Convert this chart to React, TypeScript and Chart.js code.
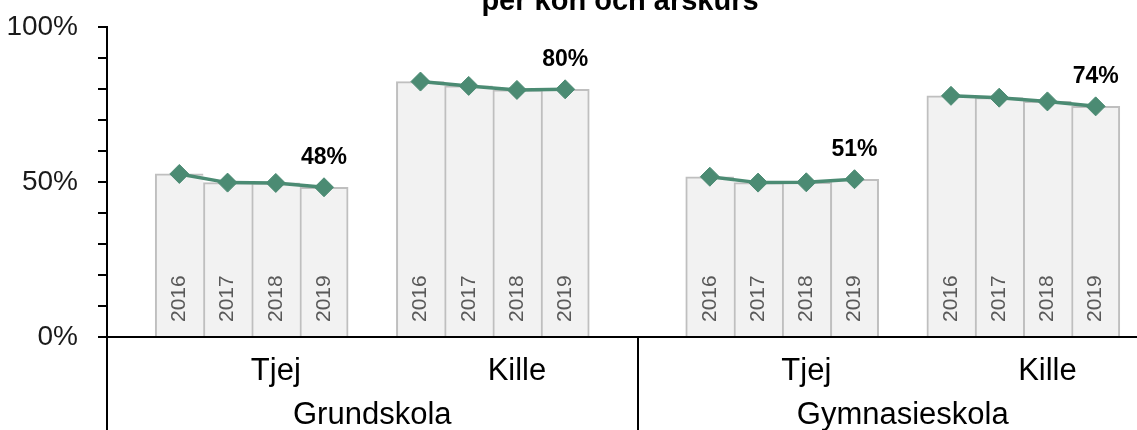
import React, { useEffect, useRef } from 'react';
import { Chart, registerables } from 'chart.js';

Chart.register(...registerables);

// ---------- data ----------
const years = ['2016', '2017', '2018', '2019'];
const genders = ['Tjej', 'Kille'];
const schoolGroups = ['Grundskola', 'Gymnasieskola'];
const grundskolaTjej = [52.6, 49.8, 49.7, 48.3];
const grundskolaKille = [82.4, 81.0, 79.7, 79.9];
const gymnasieskolaTjej = [51.7, 49.8, 49.9, 50.9];
const gymnasieskolaKille = [77.8, 77.2, 76.0, 74.4];
const yTickValues = [0, 50, 100];
const titleText = 'per kön och årskurs';

// ---------- derived category slots (blank slot before each group, after each gender) ----------
const seriesByGroup = [
  [grundskolaTjej, grundskolaKille],
  [gymnasieskolaTjej, gymnasieskolaKille],
];
const slotLabels: string[] = [];
const slotValues: (number | null)[] = [];
const slotIsLast: boolean[] = [];
const genderCenters: number[] = [];
const genderNames: string[] = [];
const groupCenters: number[] = [];
const groupEdges: number[] = [0];
seriesByGroup.forEach((pair) => {
  const groupStart = slotLabels.length;
  slotLabels.push('');
  slotValues.push(null);
  slotIsLast.push(false);
  pair.forEach((vals, k) => {
    const start = slotLabels.length;
    vals.forEach((v, i) => {
      slotLabels.push(years[i]);
      slotValues.push(v);
      slotIsLast.push(i === vals.length - 1);
    });
    slotLabels.push('');
    slotValues.push(null);
    slotIsLast.push(false);
    genderCenters.push((start + slotLabels.length) / 2);
    genderNames.push(genders[k]);
  });
  groupCenters.push((groupStart + slotLabels.length) / 2);
  groupEdges.push(slotLabels.length);
});
const slotCount = slotLabels.length;

const FONT = "'Liberation Sans', Arial, sans-serif";
const GREEN = '#4b8b73';

const overlayPlugin = {
  id: 'overlay',
  afterDatasetsDraw(chart: any) {
    const ctx = chart.ctx;
    const area = chart.chartArea;
    const barMeta = chart.getDatasetMeta(1);
    const lineMeta = chart.getDatasetMeta(0);
    ctx.save();
    // year labels inside bars
    ctx.font = `21px ${FONT}`;
    ctx.fillStyle = '#595959';
    ctx.textAlign = 'left';
    ctx.textBaseline = 'middle';
    barMeta.data.forEach((el: any, i: number) => {
      if (slotValues[i] == null) return;
      ctx.save();
      ctx.translate(el.x, area.bottom - 15);
      ctx.rotate(-Math.PI / 2);
      ctx.fillText(slotLabels[i], 0, 0);
      ctx.restore();
    });
    // value labels on last point of each series
    ctx.font = `bold 23px ${FONT}`;
    ctx.fillStyle = '#000';
    ctx.textAlign = 'center';
    ctx.textBaseline = 'alphabetic';
    lineMeta.data.forEach((el: any, i: number) => {
      if (!slotIsLast[i]) return;
      const v = slotValues[i] as number;
      ctx.fillText(Math.round(v) + '%', el.x, el.y - 23);
    });
    ctx.restore();
  },
  afterDraw(chart: any) {
    const ctx = chart.ctx;
    const sc = chart.scales.xGroup;
    ctx.save();
    ctx.strokeStyle = '#000';
    ctx.lineWidth = 2;
    groupEdges.forEach((v) => {
      const x = Math.round(sc.getPixelForValue(v));
      ctx.beginPath();
      ctx.moveTo(x, chart.chartArea.bottom);
      ctx.lineTo(x, chart.height);
      ctx.stroke();
    });
    ctx.restore();
  },
};

export default function App() {
  const ref = useRef<HTMLCanvasElement | null>(null);
  useEffect(() => {
    if (!ref.current) return;
    const chart = new Chart(ref.current, {
      data: {
        labels: slotLabels,
        datasets: [
          {
            type: 'line',
            data: slotValues,
            borderColor: GREEN,
            backgroundColor: GREEN,
            borderWidth: 3.5,
            pointStyle: 'rectRot',
            pointRadius: 9.5,
            pointBorderWidth: 1,
            pointBackgroundColor: GREEN,
            pointBorderColor: GREEN,
            spanGaps: false,
            xAxisID: 'x',
            yAxisID: 'y',
          } as any,
          {
            type: 'bar',
            data: slotValues,
            backgroundColor: '#f2f2f2',
            borderColor: '#bfbfbf',
            borderWidth: (c: any) => ({ top: 2, left: 2, right: slotIsLast[c.dataIndex] ? 2 : 0, bottom: 0 }),
            borderSkipped: false,
            categoryPercentage: 1,
            barPercentage: 1,
            xAxisID: 'x',
            yAxisID: 'y',
          } as any,
        ],
      },
      options: {
        animation: false,
        responsive: false,
        events: [],
        layout: { padding: 0 },
        plugins: {
          legend: { display: false },
          tooltip: { enabled: false },
          title: {
            display: true,
            text: titleText,
            color: '#000',
            font: { family: FONT, size: 29, weight: 'bold' },
            padding: { top: 15, bottom: 7.2 },
          },
        },
        scales: {
          x: {
            type: 'category',
            position: 'bottom',
            weight: 1,
            offset: true,
            grid: { display: false },
            border: { display: true, color: '#000', width: 2 },
            ticks: { display: false },
            afterFit: (s: any) => { s.height = 0; },
          },
          xSub: {
            type: 'linear',
            position: 'bottom',
            weight: 2,
            min: 0,
            max: slotCount,
            grid: { display: false },
            border: { display: false },
            afterBuildTicks: (s: any) => { s.ticks = genderCenters.map((v) => ({ value: v })); },
            ticks: {
              autoSkip: false,
              maxRotation: 0,
              padding: 8,
              color: '#000',
              font: { family: FONT, size: 31 },
              callback: (_v: any, i: number) => genderNames[i],
            },
            afterFit: (s: any) => { s.height = 52; },
          },
          xGroup: {
            type: 'linear',
            position: 'bottom',
            weight: 3,
            min: 0,
            max: slotCount,
            grid: { display: false },
            border: { display: false },
            afterBuildTicks: (s: any) => { s.ticks = groupCenters.map((v) => ({ value: v })); },
            ticks: {
              autoSkip: false,
              maxRotation: 0,
              padding: 0,
              color: '#000',
              font: { family: FONT, size: 31 },
              callback: (_v: any, i: number) => schoolGroups[i],
            },
            afterFit: (s: any) => { s.height = 51; },
          },
          y: {
            type: 'linear',
            position: 'left',
            min: 0,
            max: 100,
            grid: { display: true, drawOnChartArea: false, drawTicks: true, tickLength: 9, color: '#000', lineWidth: 2 },
            border: { display: true, color: '#000', width: 2 },
            ticks: {
              stepSize: 10,
              autoSkip: false,
              padding: 20,
              color: '#1a1a1a',
              font: { family: FONT, size: 28 },
              callback: (v: any) => (yTickValues.includes(Number(v)) ? v + '%' : ''),
            },
            afterFit: (s: any) => { s.width = 107; },
          },
          yR: {
            type: 'linear',
            position: 'right',
            display: true,
            grid: { display: false },
            border: { display: false },
            ticks: { display: false },
            afterFit: (s: any) => { s.width = 72; },
          },
        },
      } as any,
      plugins: [overlayPlugin],
    });
    return () => chart.destroy();
  }, []);

  return (
    <div style={{ position: 'fixed', left: 0, top: 0, width: 1137, height: 430, overflow: 'hidden', background: '#fff' }}>
      <canvas ref={ref} width={1240} height={470} style={{ position: 'absolute', left: 0, top: -30, display: 'block' }} />
    </div>
  );
}
